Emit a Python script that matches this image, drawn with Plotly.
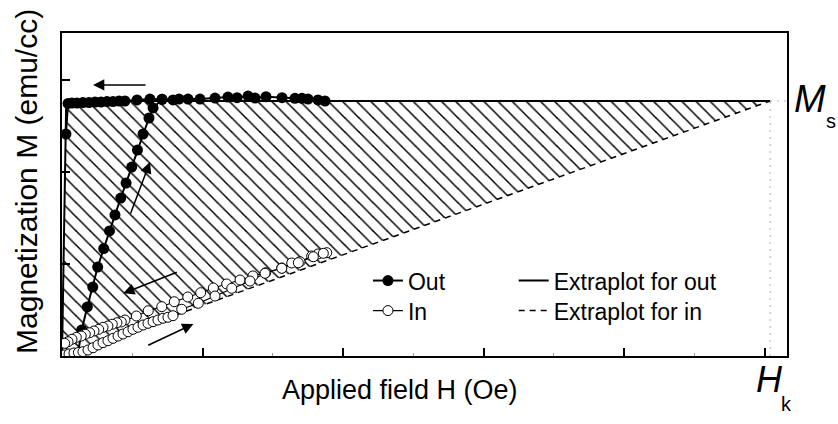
import plotly.graph_objects as go

# Out-of-plane loop: decreasing-field branch (high field -> zero)
out_desc_h = [1.872, 1.822, 1.751, 1.708, 1.658, 1.566, 1.452, 1.374, 1.324, 1.246,
              1.181, 1.089, 0.982, 0.897, 0.833, 0.790, 0.712, 0.626, 0.534, 0.448,
              0.406, 0.363, 0.320, 0.278, 0.235, 0.192, 0.149, 0.107, 0.071, 0.043, 0.028]
out_desc_m = [2.772, 2.783, 2.793, 2.801, 2.801, 2.808, 2.818, 2.804, 2.826, 2.808,
              2.815, 2.804, 2.793, 2.793, 2.793, 2.783, 2.790, 2.793, 2.783, 2.772,
              2.772, 2.766, 2.766, 2.761, 2.761, 2.755, 2.755, 2.750, 2.750, 2.745, 2.413]
# Out-of-plane loop: increasing-field branch
out_asc_h = [0.096, 0.140, 0.180, 0.219, 0.254, 0.297, 0.338, 0.377, 0.418, 0.456,
             0.496, 0.537, 0.577, 0.619, 0.648, 0.712]
out_asc_m = [-0.150, 0.283, 0.533, 0.750, 0.967, 1.168, 1.359, 1.533, 1.717, 1.880,
             2.054, 2.239, 2.413, 2.587, 2.696, 2.790]

# In-plane loop: decreasing-field branch
in_desc_h = [1.884, 1.822, 1.777, 1.694, 1.635, 1.564, 1.450, 1.359, 1.267, 1.172,
             1.077, 0.987, 0.895, 0.799, 0.710, 0.614, 0.529, 0.448, 0.422, 0.391,
             0.358, 0.327, 0.292, 0.261, 0.228, 0.197, 0.166, 0.137, 0.102, 0.071,
             0.043, 0.019]
in_desc_m = [1.123, 1.109, 1.087, 1.025, 1.011, 0.957, 0.905, 0.870, 0.826, 0.783,
             0.739, 0.688, 0.641, 0.590, 0.536, 0.492, 0.435, 0.391, 0.370, 0.362,
             0.345, 0.326, 0.312, 0.290, 0.272, 0.253, 0.236, 0.217, 0.203, 0.182,
             0.155, 0.138]
# In-plane loop: increasing-field branch
in_asc_h = [0.014, 0.050, 0.085, 0.117, 0.149, 0.185, 0.221, 0.256, 0.292, 0.327,
            0.363, 0.399, 0.434, 0.470, 0.505, 0.541, 0.577, 0.612, 0.648, 0.683,
            0.719, 0.754, 0.790, 0.852, 0.970, 1.089, 1.208, 1.338, 1.445, 1.564,
            1.682, 1.789, 1.860]
in_asc_m = [0.011, 0.022, 0.033, 0.038, 0.047, 0.065, 0.090, 0.120, 0.145, 0.166,
            0.192, 0.217, 0.239, 0.264, 0.290, 0.312, 0.337, 0.355, 0.373, 0.391,
            0.410, 0.421, 0.438, 0.508, 0.573, 0.652, 0.736, 0.815, 0.899, 0.953,
            1.014, 1.079, 1.116]

# Saturation magnetization and anisotropy field
ms = 2.772
hk = 5.04
ms_knee_h = 0.03

# Field-sweep direction arrows: (head_h, head_m, tail_h, tail_m)
arrows = [
    (0.221, 2.946, 0.605, 2.946),
    (0.626, 2.109, 0.484, 1.533),
    (0.436, 0.682, 0.828, 0.916),
    (0.935, 0.348, 0.603, 0.109),
]

x_ticks = [1, 2, 3, 4, 5]
x_minor_ticks = [0.5, 1.5, 2.5, 3.5, 4.5]
y_ticks = [1, 2, 3]
x_range = [0, 5.16]
y_range = [0, 3.511]

FONT = "Liberation Sans, Arial, sans-serif"

fig = go.Figure()

# Hatched area between the two extrapolations
fig.add_trace(go.Scatter(
    x=[0, ms_knee_h, hk, 0], y=[0, ms, ms, 0],
    mode="lines", line=dict(width=0, color="black"),
    fill="toself", fillcolor="rgba(0,0,0,0)",
    fillpattern=dict(shape="\\", size=10, solidity=0.15,
                     fgcolor="black", bgcolor="white", fgopacity=1),
    showlegend=False, hoverinfo="skip",
))

# Extrapolation lines
fig.add_trace(go.Scatter(
    x=[0, ms_knee_h, hk], y=[0, ms, ms], mode="lines",
    line=dict(color="black", width=2),
    name="Extraplot for out", legend="legend3",
))
fig.add_trace(go.Scatter(
    x=[0, hk], y=[0, ms], mode="lines",
    line=dict(color="black", width=1.5, dash="6px,5px"),
    name="Extraplot for in", legend="legend4",
))

# Guides to Hk
fig.add_trace(go.Scatter(
    x=[hk, hk], y=[0, ms], mode="lines",
    line=dict(color="#b0b0b0", width=1, dash="2px,5px"),
    showlegend=False, hoverinfo="skip",
))
fig.add_trace(go.Scatter(
    x=[hk, x_range[1]], y=[ms, ms], mode="lines",
    line=dict(color="#b0b0b0", width=1, dash="2px,5px"),
    showlegend=False, hoverinfo="skip",
))

# Measured loops
fig.add_trace(go.Scatter(
    x=out_desc_h + [None] + out_asc_h, y=out_desc_m + [None] + out_asc_m,
    mode="lines+markers", name="Out",
    line=dict(color="black", width=2),
    marker=dict(symbol="circle", size=11, color="black", line=dict(width=0)),
    legend="legend",
))
fig.add_trace(go.Scatter(
    x=in_desc_h + [None] + in_asc_h, y=in_desc_m + [None] + in_asc_m,
    mode="lines+markers", name="In",
    line=dict(color="black", width=1.2),
    marker=dict(symbol="circle", size=10, color="white", line=dict(width=1, color="black")),
    legend="legend2",
))

annotations = []
for hh, hm, th, tm in arrows:
    annotations.append(dict(
        x=hh, y=hm, ax=th, ay=tm, xref="x", yref="y", axref="x", ayref="y",
        text="", showarrow=True, arrowhead=2, arrowsize=1.5, arrowwidth=1.5,
        arrowcolor="black", standoff=0, startstandoff=0,
    ))

# Axis titles
annotations.append(dict(
    text="Applied field H (Oe)", xref="paper", yref="paper", x=0.4662, y=-0.105,
    xanchor="center", yanchor="middle", showarrow=False,
    font=dict(family=FONT, size=27, color="black"),
))
annotations.append(dict(
    text="Magnetization M (emu/cc)", xref="paper", yref="paper", x=-0.0483, y=0.5418,
    xanchor="center", yanchor="middle", showarrow=False, textangle=-90,
    font=dict(family=FONT, size=30, color="black"),
))

# M_s and H_k labels
annotations += [
    dict(text="<i>M</i>", xref="paper", yref="paper", x=1.0317, y=0.7957,
         xanchor="center", yanchor="middle", showarrow=False,
         font=dict(family=FONT, size=38, color="black")),
    dict(text="s", xref="paper", yref="paper", x=1.0607, y=0.728,
         xanchor="center", yanchor="middle", showarrow=False,
         font=dict(family=FONT, size=20, color="black")),
    dict(text="<i>H</i>", xref="paper", yref="paper", x=0.9752, y=-0.0743,
         xanchor="center", yanchor="middle", showarrow=False,
         font=dict(family=FONT, size=36, color="black")),
    dict(text="k", xref="paper", yref="paper", x=0.999, y=-0.1486,
         xanchor="center", yanchor="middle", showarrow=False,
         font=dict(family=FONT, size=20, color="black")),
]

axis_common = dict(
    showgrid=False, zeroline=False, showticklabels=False,
    ticks="inside", ticklen=8, tickwidth=1.5, tickcolor="black",
    showline=True, linecolor="black", linewidth=2, mirror=True,
)

legend_common = dict(xanchor="left", yanchor="top", bgcolor="rgba(0,0,0,0)",
                     font=dict(family=FONT, size=23), itemwidth=30)

fig.update_layout(
    width=838, height=424,
    margin=dict(l=62, r=51, t=33, b=68),
    paper_bgcolor="white", plot_bgcolor="white",
    font=dict(family=FONT, color="black"),
    xaxis=dict(range=x_range, tickvals=x_ticks,
               minor=dict(tickvals=x_minor_ticks, ticks="inside",
                          ticklen=3, tickcolor="#999999", tickwidth=1),
               **axis_common),
    yaxis=dict(range=y_range, tickvals=y_ticks, **axis_common),
    legend=dict(x=0.422, y=0.300, **legend_common),
    legend2=dict(x=0.422, y=0.207, **legend_common),
    legend3=dict(x=0.623, y=0.300, **legend_common),
    legend4=dict(x=0.623, y=0.207, **legend_common),
    annotations=annotations,
    showlegend=True,
)

fig.write_html("out.html")
